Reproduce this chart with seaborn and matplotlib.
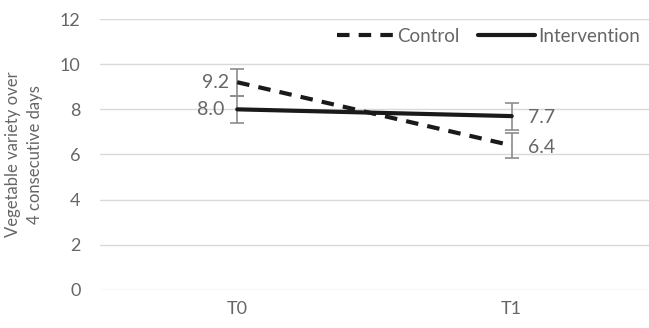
import matplotlib.pyplot as plt
import seaborn as sns
import pandas as pd

timepoints = ["T0", "T1"]
groups = ["Control", "Intervention"]
control_mean = [9.2, 6.4]
control_err = [0.6, 0.56]
intervention_mean = [8.0, 7.7]
intervention_err = [0.6, 0.6]

df = pd.DataFrame({
    "time": timepoints * 2,
    "group": ["Control"] * 2 + ["Intervention"] * 2,
    "value": control_mean + intervention_mean,
})

sns.set_style("white")
plt.rcParams["font.family"] = ["Lato", "DejaVu Sans"]
grey = "#666666"

fig = plt.figure(figsize=(6.49, 3.28), dpi=100)
ax = fig.add_axes([0.154, 0.116, 0.846, 0.826])

sns.lineplot(data=df, x="time", y="value", style="group", style_order=groups,
             dashes={"Control": (3, 2.2), "Intervention": ""}, color="#1a1a1a",
             linewidth=3, ax=ax, zorder=3)

# error bars
x = list(range(len(timepoints)))
for m, e in [(control_mean, control_err), (intervention_mean, intervention_err)]:
    ax.errorbar(x, m, yerr=e, fmt="none", ecolor="#8c8c8c",
                elinewidth=1.2, capsize=5, capthick=1.2, zorder=2)

# data labels
ax.text(-0.03, control_mean[0], f"{control_mean[0]:.1f}", ha="right", va="center", fontsize=14, color=grey)
ax.text(-0.045, intervention_mean[0], f"{intervention_mean[0]:.1f}", ha="right", va="center", fontsize=14, color=grey)
ax.text(1.06, intervention_mean[1] - 0.05, f"{intervention_mean[1]:.1f}", ha="left", va="center", fontsize=14, color=grey)
ax.text(1.06, control_mean[1] - 0.07, f"{control_mean[1]:.1f}", ha="left", va="center", fontsize=14, color=grey)

ax.set_xlim(-0.5, 1.5)
ax.set_ylim(0, 12)
ax.set_yticks(range(0, 13, 2))
ax.yaxis.grid(True, color="#d9d9d9", linewidth=1)
ax.set_axisbelow(True)
for s in ax.spines.values():
    s.set_visible(False)
ax.tick_params(axis="y", length=0, labelsize=13, labelcolor=grey, pad=14)
ax.tick_params(axis="x", length=0, labelsize=13, labelcolor=grey, pad=8)
ax.set_xlabel("")
ax.set_ylabel("Vegetable variety over\n4 consecutive days", fontsize=12, color=grey, labelpad=12,
              linespacing=1.5)

leg = ax.legend(loc="upper right", bbox_to_anchor=(1.015, 1.03), ncol=2, frameon=False,
                fontsize=13.5, handlelength=3.0, columnspacing=1.0, handletextpad=0.2)
for t in leg.get_texts():
    t.set_color(grey)

plt.savefig("out.png", dpi=100)
